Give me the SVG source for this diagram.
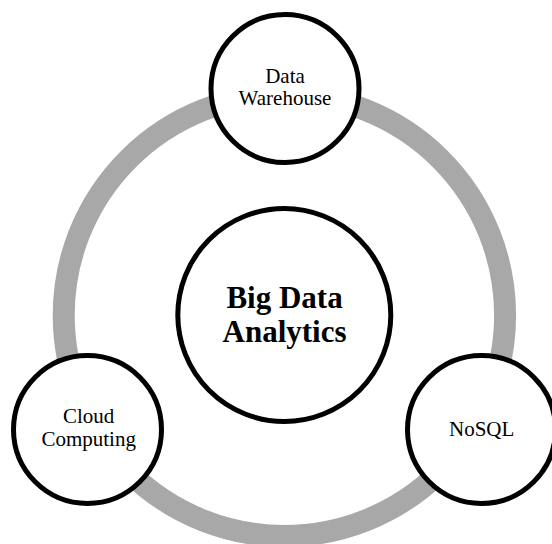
<svg xmlns="http://www.w3.org/2000/svg" width="552" height="544" viewBox="0 0 552 544">
  <style>
    .node { fill: #ffffff; stroke: #000000; stroke-width: 5; }
    .ring { fill: none; stroke: #a8a8a8; stroke-width: 22; }
    .label { font-family: "Liberation Serif", "Times New Roman", serif; font-size: 21px; fill: #000000; text-anchor: middle; }
    .title { font-family: "Liberation Serif", "Times New Roman", serif; font-size: 31px; font-weight: bold; fill: #000000; text-anchor: middle; }
  </style>
  <rect x="0" y="0" width="552" height="544" fill="#ffffff"/>

  <!-- cycle ring linking the outer nodes -->
  <g id="connectors">
    <circle class="ring" cx="284.4" cy="315.3" r="220.7"/>
  </g>

  <g id="big-data-analytics">
    <circle class="node" cx="284.3" cy="315" r="106.5"/>
    <text class="title" x="284.5" y="308">Big Data</text>
    <text class="title" x="284.5" y="341.5">Analytics</text>
  </g>

  <g id="data-warehouse">
    <circle class="node" cx="285" cy="88.5" r="74"/>
    <text class="label" x="285" y="83">Data</text>
    <text class="label" x="285" y="105">Warehouse</text>
  </g>

  <g id="cloud-computing">
    <circle class="node" cx="87.5" cy="429.5" r="74"/>
    <text class="label" x="88.7" y="422.5">Cloud</text>
    <text class="label" x="88.7" y="446">Computing</text>
  </g>

  <g id="nosql">
    <circle class="node" cx="481.5" cy="429.5" r="74"/>
    <text class="label" x="481.7" y="436">NoSQL</text>
  </g>
</svg>
